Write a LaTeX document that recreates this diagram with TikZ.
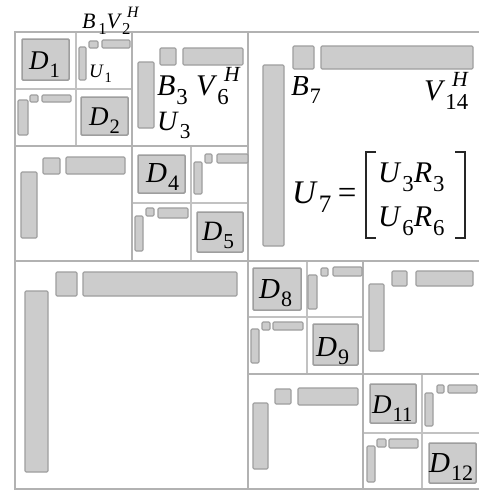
\documentclass[tikz,border=0pt]{standalone}
\usepackage{fontspec}
\usepackage{graphicx}
\setmainfont{Liberation Serif}
\definecolor{barfill}{gray}{0.80}
\definecolor{barline}{gray}{0.62}
\definecolor{gridline}{gray}{0.70}
\definecolor{gridlight}{gray}{0.76}
% italic letter with subscript, and with subscript plus superscript H
\newcommand\sbx[1]{\raisebox{-0.30em}{\scalebox{0.76}{#1}}}
\newcommand\spx[1]{\raisebox{0.46em}{\scalebox{0.72}{\textit{#1}}}}
\newcommand\ms[2]{\textit{#1}\hspace{0.03em}\sbx{#2}}
\newcommand\msh[2]{\textit{#1}\rlap{\hspace{0.22em}\spx{H}}\sbx{#2}}
\newcommand\fsz[1]{\fontsize{#1}{#1}\selectfont}
\tikzset{
  outer/.style={draw=gridline, line width=2pt},
  lvlone/.style={draw=gridline, line width=1.8pt},
  lvltwo/.style={draw=gridlight, line width=1.4pt},
  bar/.style={fill=barfill, draw=barline, line width=1.1pt, rounded corners=1.2pt},
  dblk/.style={fill=barfill, draw=barline, line width=1.5pt, rounded corners=1pt},
  lbl/.style={inner sep=0pt, anchor=base west, text=black},
  brk/.style={draw=black!85, line width=1.2pt}
}
\begin{document}
\begin{tikzpicture}[x=1pt, y=-1pt]
\useasboundingbox (0,0) rectangle (479,491);
\fill[white] (0,0) rectangle (479,491);

% ---- partition lines ----
\draw[lvltwo] (76,32) -- (76,146);
\draw[lvltwo] (15,89) -- (132,89);
\draw[lvltwo] (191,146) -- (191,261);
\draw[lvltwo] (132,203) -- (248,203);
\draw[lvltwo] (307,261) -- (307,374);
\draw[lvltwo] (248,317) -- (363,317);
\draw[lvltwo] (422,374) -- (422,489);
\draw[lvltwo] (363,433) -- (481,433);
\draw[lvlone] (132,32) -- (132,261);
\draw[lvlone] (15,146) -- (248,146);
\draw[lvlone] (363,261) -- (363,489);
\draw[lvlone] (248,374) -- (481,374);
\draw[lvlone] (248,32) -- (248,489);
\draw[lvlone] (15,261) -- (481,261);
\draw[outer] (15,32) rectangle (482,489);

% ---- dense diagonal blocks ----
\draw[dblk] (22,39) rectangle (69,80);
\draw[dblk] (81,97) rectangle (128,135);
\draw[dblk] (138,155) rectangle (185,193);
\draw[dblk] (197,212) rectangle (243,252);
\draw[dblk] (253,268) rectangle (301,310);
\draw[dblk] (313,324) rectangle (358,365);
\draw[dblk] (370,384) rectangle (416,423);
\draw[dblk] (429,443) rectangle (476,483);

% ---- low-rank factors: U (tall), B (square), V^H (wide) ----
% level 3, top-left quadrant
\draw[bar] (79,47) rectangle (86,80);
\draw[bar] (89,41) rectangle (98,48);
\draw[bar] (102,40) rectangle (130,48);
\draw[bar] (18,100) rectangle (28,135);
\draw[bar] (30,95) rectangle (38,102);
\draw[bar] (42,95) rectangle (71,102);
\draw[bar] (194,162) rectangle (202,194);
\draw[bar] (205,154) rectangle (212,163);
\draw[bar] (217,154) rectangle (248,163);
\draw[bar] (135,216) rectangle (143,251);
\draw[bar] (146,208) rectangle (154,216);
\draw[bar] (158,208) rectangle (188,218);
% level 2, top-left quadrant
\draw[bar] (138,62) rectangle (154,128);
\draw[bar] (160,48) rectangle (176,65);
\draw[bar] (183,48) rectangle (243,65);
\draw[bar] (21,172) rectangle (37,238);
\draw[bar] (43,158) rectangle (60,174);
\draw[bar] (66,157) rectangle (125,174);
% level 1
\draw[bar] (263,65) rectangle (284,246);
\draw[bar] (293,46) rectangle (314,69);
\draw[bar] (321,46) rectangle (473,69);
\draw[bar] (25,291) rectangle (48,472);
\draw[bar] (56,272) rectangle (77,296);
\draw[bar] (83,272) rectangle (237,296);
% level 2, bottom-right quadrant
\draw[bar] (369,284) rectangle (384,351);
\draw[bar] (392,271) rectangle (407,286);
\draw[bar] (416,271) rectangle (473,286);
\draw[bar] (253,403) rectangle (268,469);
\draw[bar] (275,389) rectangle (291,404);
\draw[bar] (298,388) rectangle (358,405);
% level 3, bottom-right quadrant
\draw[bar] (308,275) rectangle (317,309);
\draw[bar] (321,268) rectangle (328,276);
\draw[bar] (333,267) rectangle (362,276);
\draw[bar] (251,329) rectangle (259,363);
\draw[bar] (262,322) rectangle (270,330);
\draw[bar] (273,322) rectangle (303,330);
\draw[bar] (425,393) rectangle (433,426);
\draw[bar] (437,385) rectangle (444,393);
\draw[bar] (448,385) rectangle (477,393);
\draw[bar] (367,446) rectangle (375,482);
\draw[bar] (377,439) rectangle (386,447);
\draw[bar] (389,439) rectangle (418,448);

% ---- labels ----
\node[lbl] (tD1) at (29,69) {\fsz{27}\ms{D}{1}};
\node[lbl] (tD2) at (89,125) {\fsz{27}\ms{D}{2}};
\node[lbl] (tD4) at (146,182) {\fsz{29}\ms{D}{4}};
\node[lbl] (tD5) at (202,240) {\fsz{28}\ms{D}{5}};
\node[lbl] (tD8) at (259,298) {\fsz{29}\ms{D}{8}};
\node[lbl] (tD9) at (316,356) {\fsz{29}\ms{D}{9}};
\node[lbl] (tD11) at (372,413) {\fsz{27}\ms{D}{11}};
\node[lbl] (tD12) at (429,472) {\fsz{29}\ms{D}{12}};
\node[lbl] (tU1) at (89,77) {\fsz{19}\ms{U}{1}};
\node[lbl] (tB1V2) at (82,28) {\fsz{22}\textit{B}\hspace{0.12em}\sbx{1}\msh{V}{2}};
\node[lbl] (tB3) at (157,95) {\fsz{30}\ms{B}{3}};
\node[lbl] (tV6) at (196,95) {\fsz{30}\msh{V}{6}};
\node[lbl] (tU3) at (157,130) {\fsz{28}\ms{U}{3}};
\node[lbl] (tB7) at (291,95) {\fsz{29}\ms{B}{7}};
\node[lbl] (tV14) at (424,100) {\fsz{30}\msh{V}{14}};
\node[lbl] (tU7) at (292,203) {\fsz{33}\ms{U}{7}\hspace{0.2em}=};
\node[lbl] (tU3R3) at (378,182) {\fsz{30}\ms{U}{3}\ms{R}{3}};
\node[lbl] (tU6R6) at (378,226) {\fsz{30}\ms{U}{6}\ms{R}{6}};
% matrix brackets
\coordinate (lbT) at (366,152);
\coordinate (lbB) at (366,238);
\coordinate (rbT) at (465,152);
\coordinate (rbB) at (465,238);
\draw[brk] ([xshift=10pt]lbT) -- (lbT) -- (lbB) -- ([xshift=10pt]lbB);
\draw[brk] ([xshift=-10pt]rbT) -- (rbT) -- (rbB) -- ([xshift=-10pt]rbB);
\end{tikzpicture}
\end{document}
